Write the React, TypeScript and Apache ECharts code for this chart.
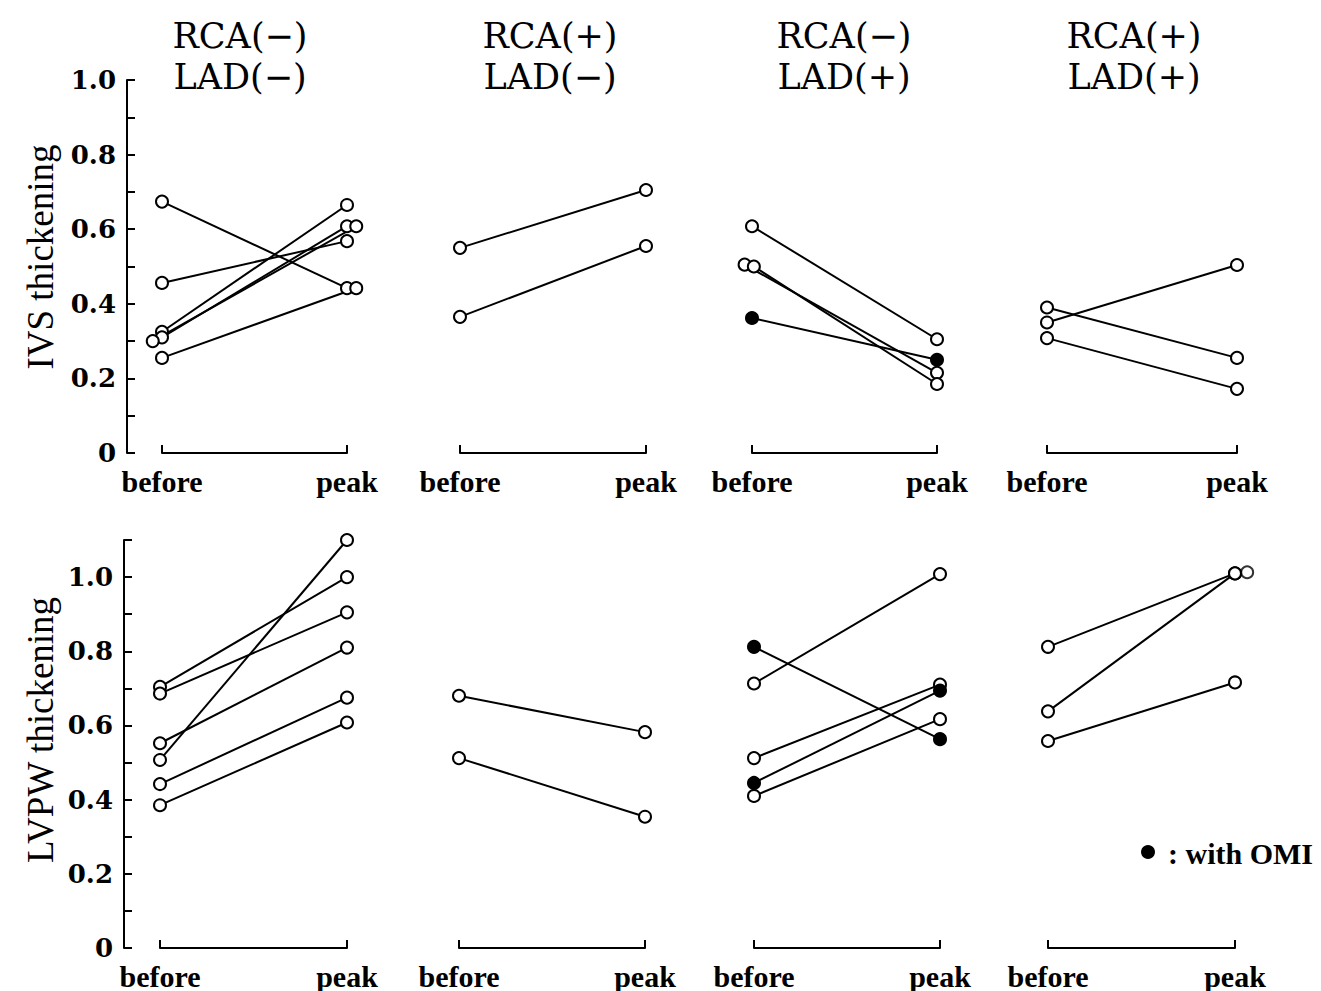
import React, { useEffect, useRef } from "react";
import * as echarts from "echarts";

// ---------- texts ----------
const columnTitlesTop = ["RCA(−)", "RCA(+)", "RCA(−)", "RCA(+)"];
const columnTitlesBottom = ["LAD(−)", "LAD(−)", "LAD(+)", "LAD(+)"];
const xTickLabels = ["before", "peak"];
const yAxisNames = ["IVS thickening", "LVPW thickening"];
const legendText = ": with OMI";

// ---------- IVS thickening (top row) ----------
const ivsBefore = [
  [0.674, 0.456, 0.325, 0.31, 0.3, 0.255],
  [0.55, 0.365],
  [0.608, 0.505, 0.5, 0.362],
  [0.39, 0.35, 0.308],
];
const ivsBeforeX = [
  [0, 0, 0, 0, -0.05, 0],
  [0, 0],
  [0, -0.04, 0.01, 0],
  [0, 0, 0],
];
const ivsPeak = [
  [0.442, 0.568, 0.665, 0.608, 0.608, 0.442],
  [0.705, 0.555],
  [0.305, 0.215, 0.185, 0.25],
  [0.255, 0.504, 0.172],
];
const ivsPeakX = [
  [1, 1, 1, 1, 1.05, 1.05],
  [1, 1],
  [1, 1, 1, 1],
  [1, 1, 1],
];
const ivsOmi = [
  [0, 0, 0, 0, 0, 0],
  [0, 0],
  [0, 0, 0, 1],
  [0, 0, 0],
];

// ---------- LVPW thickening (bottom row) ----------
const lvpwBefore = [
  [0.704, 0.686, 0.552, 0.507, 0.442, 0.385],
  [0.68, 0.512],
  [0.812, 0.713, 0.512, 0.445, 0.41],
  [0.812, 0.638, 0.558],
];
const lvpwBeforeX = [
  [0, 0, 0, 0, 0, 0],
  [0, 0],
  [0, 0, 0, 0, 0],
  [0, 0, 0],
];
const lvpwPeak = [
  [1.0, 0.905, 0.81, 1.1, 0.675, 0.608],
  [0.582, 0.354],
  [0.563, 1.008, 0.71, 0.694, 0.617],
  [1.01, 1.01, 0.716],
];
const lvpwPeakX = [
  [1, 1, 1, 1, 1, 1],
  [1, 1],
  [1, 1, 1, 1, 1],
  [1, 1, 1],
];
const lvpwOmi = [
  [0, 0, 0, 0, 0, 0],
  [0, 0],
  [1, 0, 0, 1, 0],
  [0, 0, 0],
];
// lone overlapping circle at peak in the 4th LVPW panel
const lvpwExtraPoints = [[], [], [], [[1.065, 1.013]]];

// ---------- layout ----------
const FONT = "'Liberation Serif', 'DejaVu Serif', serif";
const WIDE_FONT = "'DejaVu Serif', 'Liberation Serif', serif";
const topLeft = [162, 460, 752, 1047];
const topWidth = [185, 186, 185, 190];
const botLeft = [160, 459, 754, 1048];
const botWidth = [187, 186, 186, 187];
const titleCenters = [240, 550, 844, 1134];

function yLabel(v: number): string {
  const k = Math.round(v * 10);
  if (k % 2 !== 0) return "";
  return k === 0 ? "0" : (k / 10).toFixed(1);
}

function buildOption() {
  const grids: any[] = [];
  const xAxes: any[] = [];
  const yAxes: any[] = [];
  const series: any[] = [];

  const rows = [
    { before: ivsBefore, bx: ivsBeforeX, peak: ivsPeak, px: ivsPeakX, omi: ivsOmi, extra: [[], [], [], []] as number[][][], left: topLeft, width: topWidth, top: 80, height: 373, max: 1.0, offset: 35 },
    { before: lvpwBefore, bx: lvpwBeforeX, peak: lvpwPeak, px: lvpwPeakX, omi: lvpwOmi, extra: lvpwExtraPoints as number[][][], left: botLeft, width: botWidth, top: 540, height: 408, max: 1.1, offset: 36 },
  ];

  const axisLineStyle = { color: "#000", width: 2 };
  const openStyle = { color: "#fff", borderColor: "#000", borderWidth: 2 };
  const filledStyle = { color: "#000", borderColor: "#000", borderWidth: 2 };

  rows.forEach((row) => {
    for (let c = 0; c < 4; c++) {
      const g = grids.length;
      grids.push({ left: row.left[c], width: row.width[c], top: row.top, height: row.height, containLabel: false });
      xAxes.push({
        gridIndex: g,
        type: "value",
        min: 0,
        max: 1,
        interval: 1,
        axisLine: { show: true, onZero: false, lineStyle: axisLineStyle },
        axisTick: { show: true, inside: true, length: 8, lineStyle: axisLineStyle },
        axisLabel: {
          show: true,
          showMinLabel: true,
          showMaxLabel: true,
          margin: 13,
          formatter: (v: number) => xTickLabels[Math.round(v)] ?? "",
          fontFamily: FONT,
          fontSize: 30,
          fontWeight: "bold",
          color: "#000",
        },
        splitLine: { show: false },
      });
      yAxes.push({
        gridIndex: g,
        type: "value",
        min: 0,
        max: row.max,
        interval: 0.1,
        show: c === 0,
        offset: row.offset,
        axisLine: { show: true, onZero: false, lineStyle: axisLineStyle },
        axisTick: { show: true, inside: true, length: 8, lineStyle: axisLineStyle },
        axisLabel: {
          show: true,
          showMinLabel: true,
          showMaxLabel: true,
          margin: 11,
          formatter: yLabel,
          fontFamily: WIDE_FONT,
          fontSize: 26,
          fontWeight: "bold",
          color: "#000",
        },
        splitLine: { show: false },
      });
      const bef = row.before[c];
      for (let i = 0; i < bef.length; i++) {
        const st = row.omi[c][i] ? filledStyle : openStyle;
        series.push({
          type: "line",
          xAxisIndex: g,
          yAxisIndex: g,
          clip: false,
          silent: true,
          symbol: "circle",
          symbolSize: 12,
          showAllSymbol: true,
          itemStyle: st,
          lineStyle: { color: "#000", width: 2 },
          z: 3,
          data: [
            [row.bx[c][i], bef[i]],
            [row.px[c][i], row.peak[c][i]],
          ],
        });
      }
      if (row.extra[c].length) {
        series.push({
          type: "scatter",
          xAxisIndex: g,
          yAxisIndex: g,
          clip: false,
          silent: true,
          symbol: "circle",
          symbolSize: 12,
          itemStyle: openStyle,
          z: 2,
          data: row.extra[c],
        });
      }
    }
  });

  const graphics: any[] = [];
  for (let c = 0; c < 4; c++) {
    graphics.push({
      type: "text",
      x: titleCenters[c],
      y: 36,
      style: { text: columnTitlesTop[c], fontFamily: WIDE_FONT, fontSize: 35, fill: "#000", align: "center", verticalAlign: "middle" },
    });
    graphics.push({
      type: "text",
      x: titleCenters[c],
      y: 77,
      style: { text: columnTitlesBottom[c], fontFamily: WIDE_FONT, fontSize: 35, fill: "#000", align: "center", verticalAlign: "middle" },
    });
  }
  graphics.push({
    type: "text",
    x: 40,
    y: 257,
    rotation: Math.PI / 2,
    style: { text: yAxisNames[0], fontFamily: FONT, fontSize: 37, fill: "#000", align: "center", verticalAlign: "middle" },
  });
  graphics.push({
    type: "text",
    x: 40,
    y: 730,
    rotation: Math.PI / 2,
    style: { text: yAxisNames[1], fontFamily: FONT, fontSize: 37, fill: "#000", align: "center", verticalAlign: "middle" },
  });
  graphics.push({ type: "circle", shape: { cx: 1148, cy: 852, r: 7 }, style: { fill: "#000" } });
  graphics.push({
    type: "text",
    x: 1168,
    y: 853,
    style: { text: legendText, fontFamily: FONT, fontSize: 30, fontWeight: "bold", fill: "#000", align: "left", verticalAlign: "middle" },
  });

  return {
    animation: false,
    backgroundColor: "#fff",
    grid: grids,
    xAxis: xAxes,
    yAxis: yAxes,
    series,
    graphic: graphics,
  };
}

export default function App() {
  const ref = useRef<HTMLDivElement>(null);
  useEffect(() => {
    if (!ref.current) return;
    const chart = echarts.init(ref.current, undefined, { renderer: "svg" });
    chart.setOption(buildOption() as any);
    return () => chart.dispose();
  }, []);
  return (
    <div
      ref={ref}
      style={{ position: "fixed", left: 0, top: 0, width: 1321, height: 991, background: "#fff" }}
    />
  );
}
